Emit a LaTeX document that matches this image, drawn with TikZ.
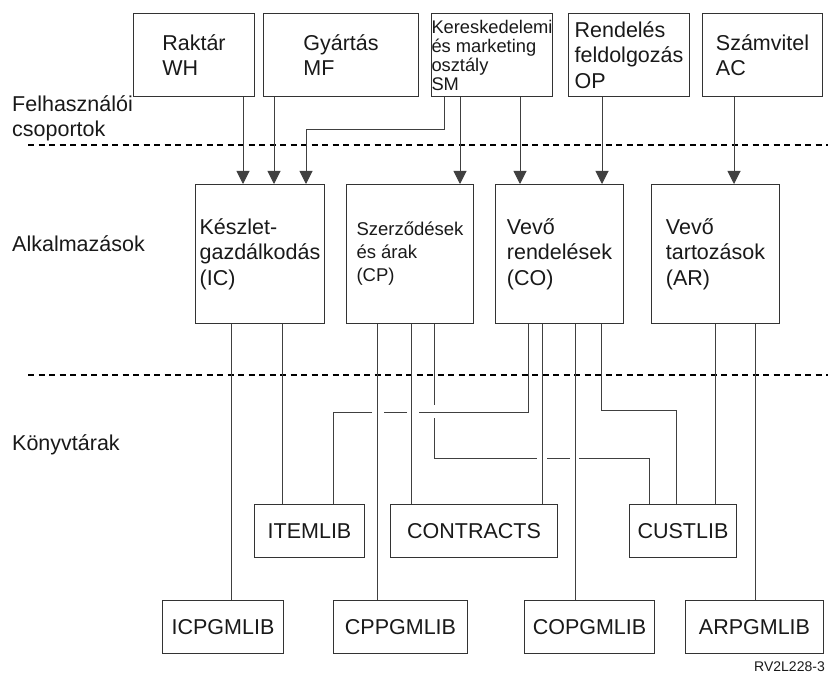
\documentclass[tikz,border=0pt]{standalone}
\usepackage{fontspec}
\setmainfont{Liberation Sans}
\usepackage{tikz}
\usetikzlibrary{arrows.meta}

\begin{document}
\begin{tikzpicture}[x=1pt, y=-1pt, every node/.style = {inner sep=0pt, align=left, text=black!90},
  box/.style = {draw=black!80, line width=1pt, anchor=north west, font=\fontsize{21.5}{25.5}\selectfont},
  grp/.style = {box, minimum height=83pt},
  app/.style = {box, minimum height=139pt},
  lib/.style = {box, minimum height=53pt, align=center},
  lbl/.style = {anchor=base west, font=\fontsize{21.5}{25}\selectfont},
  conn/.style = {draw=black!75, line width=1pt},
  arr/.style = {conn, -{Triangle[width=13pt,length=13pt]}},
  sep/.style = {draw=black, line width=1.6pt, dash pattern=on 6pt off 4.5pt}]
  \useasboundingbox (0,0) rectangle (828,679);
  \node[grp, minimum width=121pt] (wh) at (133,13) {Raktár\\WH};
  \node[grp, minimum width=155pt] (mf) at (263,13) {Gyártás\\MF};
  \node[grp, minimum width=121pt, font=\fontsize{18.3}{19}\selectfont] (sm) at (431,13) {Kereskedelemi\\és marketing\\osztály\\SM};
  \node[grp, minimum width=121pt] (op) at (568,13) {Rendelés\\feldolgozás\\OP};
  \node[grp, minimum width=120pt] (ac) at (702,13) {Számvitel\\AC};
  \node[app, minimum width=129pt] (ic) at (195,184) {Készlet-\\gazdálkodás\\(IC)};
  \node[app, minimum width=127pt, font=\fontsize{18.5}{23}\selectfont] (cp) at (346,184) {Szerződések\\és árak\\(CP)};
  \node[app, minimum width=128pt] (co) at (495,184) {Vevő\\rendelések\\(CO)};
  \node[app, minimum width=128pt] (ar) at (651,184) {Vevő\\tartozások\\(AR)};
  \node[lib, minimum width=110pt] (itemlib) at (254,504) {ITEMLIB};
  \node[lib, minimum width=167pt] (contracts) at (390,504) {CONTRACTS};
  \node[lib, minimum width=107pt] (custlib) at (629,504) {CUSTLIB};
  \node[lib, minimum width=121pt] (icpgmlib) at (162,600) {ICPGMLIB};
  \node[lib, minimum width=134pt] (cppgmlib) at (333,600) {CPPGMLIB};
  \node[lib, minimum width=130pt] (copgmlib) at (524,600) {COPGMLIB};
  \node[lib, minimum width=138pt] (arpgmlib) at (685,600) {ARPGMLIB};
  \node[lbl] (felh) at (12,137) {Felhasználói\\csoportok};
  \node[lbl] (alk) at (12,252) {Alkalmazások};
  \node[lbl] (konyv) at (12,450) {Könyvtárak};
  \node[anchor=base east, font=\fontsize{14}{14}\selectfont] (ref) at (825,671) {RV2L228-3};
  \draw[sep] (28,145) -- (828,145);
  \draw[sep] (28,375) -- (828,375);
  \draw[arr] (wh.south -| 243,0) -- (ic.north -| 243,0);
  \draw[arr] (mf.south -| 274,0) -- (ic.north -| 274,0);
  \draw[arr] (sm.south -| 444,0) |- (306,130) -- (ic.north -| 306,0);
  \draw[arr] (sm.south -| 460,0) -- (cp.north -| 460,0);
  \draw[arr] (sm.south -| 520,0) -- (co.north -| 520,0);
  \draw[arr] (op.south -| 602,0) -- (co.north -| 602,0);
  \draw[arr] (ac.south -| 734,0) -- (ar.north -| 734,0);
  \draw[conn] (ic.south -| 231,0) -- (icpgmlib.north -| 231,0);
  \draw[conn] (ic.south -| 282,0) -- (itemlib.north -| 282,0);
  \draw[conn] (cp.south -| 377,0) -- (cppgmlib.north -| 377,0);
  \draw[conn] (cp.south -| 411,0) -- (contracts.north -| 411,0);
  \draw[conn] (co.south -| 542,0) -- (contracts.north -| 542,0);
  \draw[conn] (co.south -| 575,0) -- (copgmlib.north -| 575,0);
  \draw[conn] (ar.south -| 715,0) -- (custlib.north -| 715,0);
  \draw[conn] (ar.south -| 755,0) -- (arpgmlib.north -| 755,0);
  \draw[conn] (co.south -| 528,0) |- (419,412);
  \draw[conn] (407,412) -- (384,412);
  \draw[conn] (372,412) -| (itemlib.north -| 333,0);
  \draw[conn] (cp.south -| 434,0) -- (434,405);
  \draw[conn] (434,418) |- (537,458);
  \draw[conn] (547,458) -- (570,458);
  \draw[conn] (579,458) -| (custlib.north -| 649,0);
  \draw[conn] (co.south -| 601,0) |- (676,410) -- (custlib.north -| 676,0);
\end{tikzpicture}
\end{document}
